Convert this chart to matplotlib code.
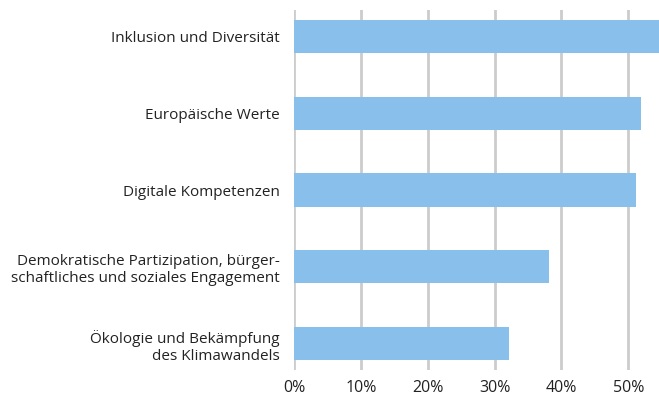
import matplotlib.pyplot as plt
import numpy as np

plt.rcParams['font.family'] = ['Open Sans', 'DejaVu Sans']

# data (share in %)
categories = [
    "Inklusion und Diversität",
    "Europäische Werte",
    "Digitale Kompetenzen",
    "Demokratische Partizipation, bürger-\nschaftliches und soziales Engagement",
    "Ökologie und Bekämpfung\ndes Klimawandels",
]
values = [55.0, 51.9, 51.1, 38.1, 32.1]
ticks = [0, 10, 20, 30, 40, 50]
tick_labels = ["0%", "10%", "20%", "30%", "40%", "50%"]

fig = plt.figure(figsize=(6.59, 4.03), dpi=100)
ax = fig.add_axes([294 / 659, 33 / 403, 365 / 659, 360 / 403])

y = np.arange(len(categories))
ax.barh(y, values, height=0.43, color="#89BFEB", zorder=2)

ax.set_xlim(0, 54.6)
ax.set_ylim(len(categories) - 1 + 0.345, -0.345)
ax.set_xticks(ticks)
ax.set_xticklabels(tick_labels, fontsize=11.5, color="#222222")
ax.set_yticks(y)
ax.set_yticklabels(categories, fontsize=11, color="#222222", ha="right",
                   linespacing=1.2)
ax.tick_params(axis="both", length=0)
ax.tick_params(axis="x", pad=7)
ax.tick_params(axis="y", pad=10)

ax.grid(axis="x", color="#CCCCCC", linewidth=2, zorder=0)
for s in ax.spines.values():
    s.set_visible(False)

fig.savefig("out.png", dpi=100)
